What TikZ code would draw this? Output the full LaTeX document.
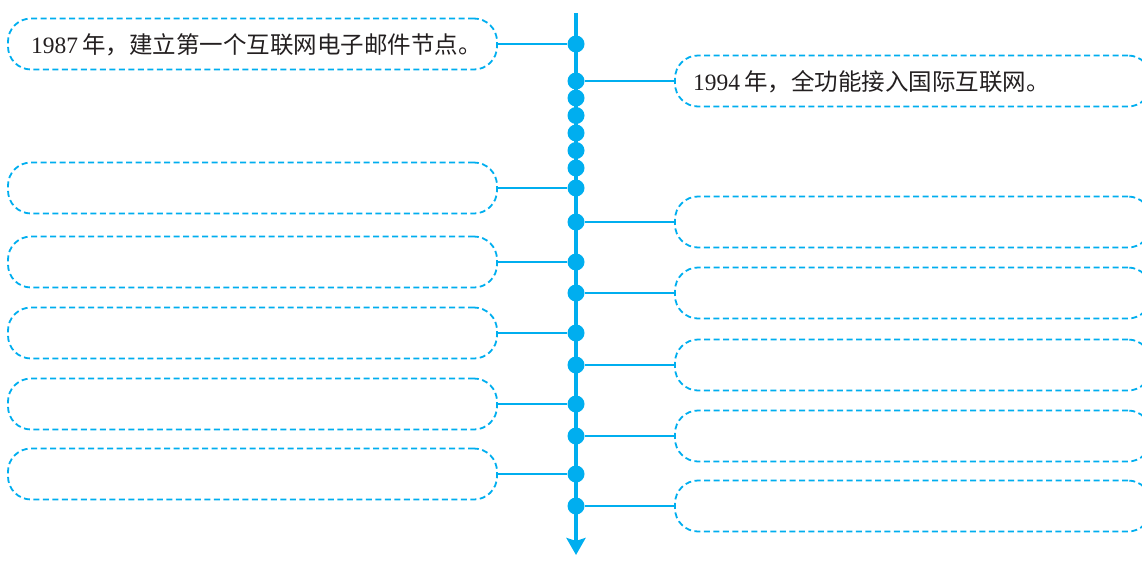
\documentclass[tikz,border=0pt]{standalone}
\usepackage{fontspec}
\setmainfont{Liberation Serif}
\newfontfamily\cjk{Noto Sans CJK SC}
\usetikzlibrary{arrows.meta}
\definecolor{tlblue}{HTML}{00AEEF}
\definecolor{tltext}{HTML}{231F20}
\tikzset{
  evbox/.style={draw=tlblue, line width=1.8pt, dash pattern=on 6pt off 3.5pt, rounded corners=23pt,
    minimum width=489pt, minimum height=51pt, inner sep=0pt},
  revbox/.style={evbox, minimum width=476pt},
  tldot/.style={circle, fill=tlblue, minimum size=17pt, inner sep=0pt},
  link/.style={draw=tlblue, line width=2pt},
  axisline/.style={draw=tlblue, line width=4pt, -{Stealth[length=17pt,width=19pt,inset=3pt]}},
  evtext/.style={text=tltext, font=\fontsize{23.5pt}{26pt}\selectfont, anchor=west, inner sep=0pt}
}
\begin{document}
\begin{tikzpicture}[x=1pt,y=-1pt]
\useasboundingbox (0,0) rectangle (1142,560);
% axis
\coordinate (top) at (576,13);
\coordinate (bot) at (576,555);
\draw[axisline] (top) -- (bot);
% left boxes
\node[evbox] (L1) at (252.5,44) {};
\node[evbox] (L2) at (252.5,188) {};
\node[evbox] (L3) at (252.5,262) {};
\node[evbox] (L4) at (252.5,333) {};
\node[evbox] (L5) at (252.5,404) {};
\node[evbox] (L6) at (252.5,474) {};
% right boxes
\node[revbox] (R1) at (913,81) {};
\node[revbox] (R2) at (913,222) {};
\node[revbox] (R3) at (913,293) {};
\node[revbox] (R4) at (913,365) {};
\node[revbox] (R5) at (913,436) {};
\node[revbox] (R6) at (913,506) {};
% texts
\node[evtext] (T1) at (31,45) {1987\,{\cjk 年，建立第一个互联网电子邮件节点。}};
\node[evtext] (T2) at (693,82) {1994\,{\cjk 年，全功能接入国际互联网。}};
% dots
\node[tldot] (d1) at (576,44) {};
\node[tldot] (d2) at (576,81) {};
\node[tldot] (e1) at (576,98) {};
\node[tldot] (e2) at (576,115.5) {};
\node[tldot] (e3) at (576,133) {};
\node[tldot] (e4) at (576,150.5) {};
\node[tldot] (e5) at (576,168) {};
\node[tldot] (d3) at (576,188) {};
\node[tldot] (d4) at (576,222) {};
\node[tldot] (d5) at (576,262) {};
\node[tldot] (d6) at (576,293) {};
\node[tldot] (d7) at (576,333) {};
\node[tldot] (d8) at (576,365) {};
\node[tldot] (d9) at (576,404) {};
\node[tldot] (d10) at (576,436) {};
\node[tldot] (d11) at (576,474) {};
\node[tldot] (d12) at (576,506) {};
% connectors
\draw[link] (L1.east) -- (d1.west);
\draw[link] (R1.west) -- (d2.east);
\draw[link] (L2.east) -- (d3.west);
\draw[link] (R2.west) -- (d4.east);
\draw[link] (L3.east) -- (d5.west);
\draw[link] (R3.west) -- (d6.east);
\draw[link] (L4.east) -- (d7.west);
\draw[link] (R4.west) -- (d8.east);
\draw[link] (L5.east) -- (d9.west);
\draw[link] (R5.west) -- (d10.east);
\draw[link] (L6.east) -- (d11.west);
\draw[link] (R6.west) -- (d12.east);
\end{tikzpicture}
\end{document}
